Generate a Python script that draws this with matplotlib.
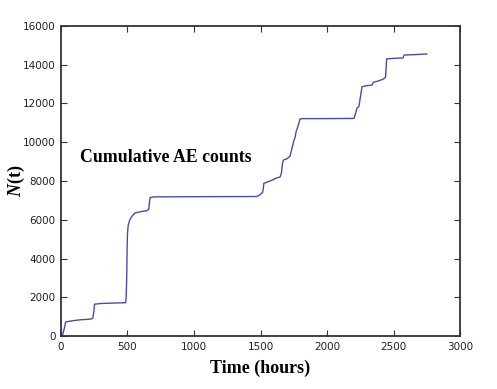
import numpy as np
import matplotlib
matplotlib.use("Agg")
import matplotlib.pyplot as plt

# cumulative AE counts
hours = [10, 25, 35, 60, 100, 150, 200, 233, 240, 248, 252, 300, 400, 486,
         490, 494, 497, 500, 505, 515, 530, 556, 600, 644, 660, 665, 670, 700,
         1000, 1300, 1471, 1490, 1515, 1521, 1525, 1571, 1600, 1617, 1647,
         1657, 1665, 1672, 1700, 1722, 1730, 1737, 1752, 1760, 1767, 1785,
         1797, 1820, 2000, 2203, 2215, 2226, 2240, 2255, 2263, 2300, 2338,
         2350, 2380, 2421, 2430, 2440, 2444, 2448, 2500, 2571, 2580, 2650, 2750]
counts = [0, 400, 720, 760, 800, 840, 860, 890, 950, 1300, 1640, 1680, 1700, 1720,
          2000, 3000, 4500, 5300, 5700, 5950, 6150, 6350, 6420, 6460, 6550, 6900, 7150, 7180,
          7190, 7195, 7200, 7260, 7400, 7600, 7880, 8000, 8080, 8150, 8206,
          8400, 8900, 9080, 9150, 9290, 9500, 9700, 10116, 10250, 10529, 10900,
          11200, 11220, 11220, 11230, 11500, 11770, 11850, 12500, 12870, 12920, 12950,
          13100, 13150, 13250, 13300, 13350, 13800, 14300, 14330, 14350, 14500, 14520, 14555]

plt.rcParams['mathtext.fontset'] = 'custom'
plt.rcParams['mathtext.rm'] = 'Liberation Serif'
plt.rcParams['mathtext.it'] = 'Liberation Serif:italic'
plt.rcParams['mathtext.bf'] = 'Liberation Serif:bold'
plt.rcParams['mathtext.bfit'] = 'Liberation Serif:italic:bold'

fig = plt.figure(figsize=(4.97, 3.89), dpi=100)
ax = fig.add_axes([0.1227, 0.1362, 0.8029, 0.797])
ax.plot(hours, counts, color='#4a4ab4', linewidth=1.0)

ax.set_xlim(0, 3000)
ax.set_ylim(0, 16000)
ax.set_xticks(np.arange(0, 3001, 500))
ax.set_yticks(np.arange(0, 16001, 2000))
ax.tick_params(direction='in', top=True, right=True, labelsize=7.5, length=4, pad=4,
               colors='#333333', labelcolor='#222222')
for s in ax.spines.values():
    s.set_linewidth(1.3)
    s.set_color('#333333')

ax.set_xlabel('Time (hours)', family='Liberation Serif', fontweight='bold', fontsize=13, labelpad=6)
ax.set_ylabel(r'$\mathbfit{N}$(t)', family='Liberation Serif', fontweight='bold', fontsize=13, labelpad=-3)
ax.text(0.048, 0.575, 'Cumulative AE counts', transform=ax.transAxes,
        family='Liberation Serif', fontweight='bold', fontsize=12.8, va='center')

fig.savefig('out.png', dpi=100)
